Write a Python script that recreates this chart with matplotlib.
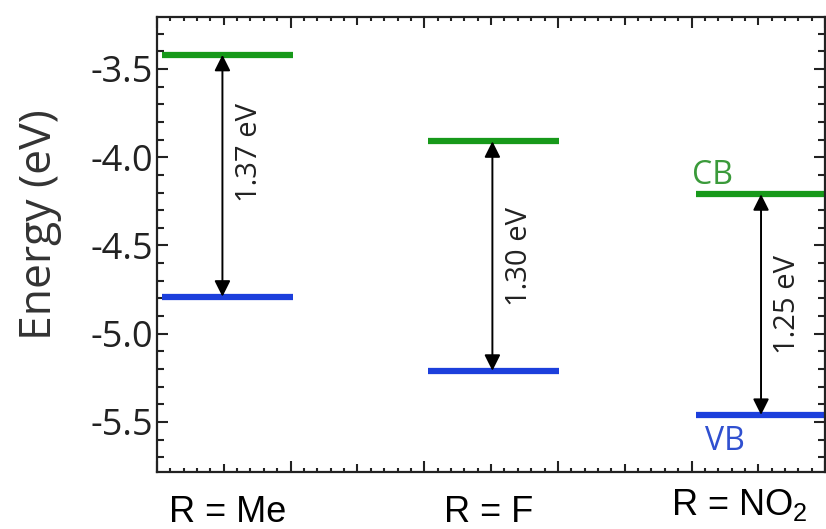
import matplotlib
matplotlib.use('Agg')
import matplotlib.pyplot as plt
from matplotlib.ticker import MultipleLocator

# band edges (eV)
substituents = ['R = Me', 'R = F', 'R = NO$_\\mathregular{2}$']
cb_levels = [-3.42, -3.91, -4.21]
vb_levels = [-4.79, -5.21, -5.46]
gap_labels = ['1.37 eV', '1.30 eV', '1.25 eV']
ytick_values = [-3.5, -4.0, -4.5, -5.0, -5.5]

# layout (x in arbitrary units 0..5)
centers = [0.53, 2.52, 4.52]
arrow_x = [0.49, 2.51, 4.52]
half_width = 0.49
label_shift = [0.13, 0.0, 0.0]

green = '#17991a'
blue = '#1c3fdc'
text_font = 'Open Sans'

fig = plt.figure(figsize=(8.26, 5.29), dpi=100)
ax = fig.add_axes([0.190, 0.108, 0.809, 0.860])

for c, xa, cb, vb, lab, dy in zip(centers, arrow_x, cb_levels, vb_levels,
                                  gap_labels, label_shift):
    ax.hlines(cb, c - half_width, c + half_width, color=green, lw=4.5)
    ax.hlines(vb, c - half_width, c + half_width, color=blue, lw=4.5)
    ax.annotate('', xy=(xa, cb), xytext=(xa, vb),
                arrowprops=dict(arrowstyle='<|-|>', color='black', lw=1.4,
                                mutation_scale=24, shrinkA=0, shrinkB=0))
    ax.text(xa + 0.2, (cb + vb) / 2 + dy, lab, rotation=90, ha='center',
            va='center', fontsize=21, family=text_font, color='#222222')

# CB / VB tags on the last set
ax.text(4.00, cb_levels[2] + 0.06, 'CB', color='#3a9a3a', fontsize=23,
        family=text_font, ha='left', va='baseline')
ax.text(4.10, vb_levels[2] - 0.06, 'VB', color='#3050d0', fontsize=23,
        family=text_font, ha='left', va='top')

# substituent names under the axis
trans = ax.get_xaxis_transform()
for c, name, yoff in zip([0.53, 2.48, 4.36], substituents,
                         [-0.110, -0.110, -0.094]):
    ax.text(c, yoff, name, transform=trans,
            ha='center', va='baseline', fontsize=26, family='Liberation Sans')

ax.set_xlim(0, 5)
ax.set_ylim(-5.783, -3.205)

ax.set_yticks(ytick_values)
ax.set_yticklabels([f'{v:.1f}' for v in ytick_values], family=text_font,
                   fontsize=26, color='#222222')
ax.yaxis.set_minor_locator(MultipleLocator(0.1))
ax.xaxis.set_major_locator(MultipleLocator(0.5))
ax.xaxis.set_minor_locator(MultipleLocator(0.1))
ax.set_xticklabels([])

ax.tick_params(which='both', direction='in', top=True, right=True,
               width=1.5, color='#222222')
ax.tick_params(axis='y', which='major', length=8, pad=3)
ax.tick_params(axis='y', which='minor', length=5)
ax.tick_params(axis='x', which='major', length=5.5)
ax.tick_params(axis='x', which='minor', length=3)

# longer ticks at whole units
for t, loc in zip(ax.xaxis.get_major_ticks(), ax.xaxis.get_majorticklocs()):
    if abs(loc - round(loc)) < 1e-6:
        t.tick1line.set_markersize(8)
        t.tick2line.set_markersize(8)

for s in ax.spines.values():
    s.set_linewidth(1.6)
    s.set_color('#222222')

ax.set_ylabel('Energy (eV)', family=text_font, fontsize=32, color='#333333')
ax.yaxis.set_label_coords(-0.142, 0.543)

fig.savefig('out.png', dpi=100)
